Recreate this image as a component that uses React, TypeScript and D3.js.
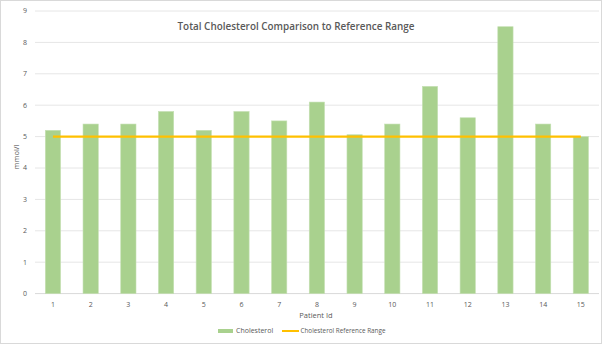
import React from "react";
import * as d3 from "d3";

const patientIds = ["1","2","3","4","5","6","7","8","9","10","11","12","13","14","15"];
const cholesterol = [5.2, 5.4, 5.4, 5.8, 5.2, 5.8, 5.5, 6.1, 5.06, 5.4, 6.6, 5.6, 8.5, 5.4, 5.0];
const referenceRange = [5,5,5,5,5,5,5,5,5,5,5,5,5,5,5];
const yTicks = [0,1,2,3,4,5,6,7,8,9];
const titleText = "Total Cholesterol Comparison to Reference Range";
const xAxisTitle = "Patient Id";
const yAxisTitle = "mmol/l";
const legendLabels = ["Cholesterol", "Cholesterol Reference Range"];

const W = 602, H = 344;
const font = "'Open Sans', 'Liberation Sans', sans-serif";
const textColor = "#595959";

export default function App() {
  const x = d3.scaleBand<string>().domain(patientIds).range([34.1, 599.7]).paddingInner(0.595).paddingOuter(0.2975);
  const y = d3.scaleLinear().domain([0, 9]).range([293.6, 11]);
  const line = d3.line<number>()
    .x((_, i) => (x(patientIds[i]) as number) + x.bandwidth() / 2)
    .y((d) => y(d));

  return (
    <svg width={W} height={H} style={{ position: "fixed", left: 0, top: 0, background: "#fff" }} fontFamily={font}>
      <rect x={0.5} y={0.5} width={W - 1} height={H - 1} fill="#fff" stroke="#d9d9d9" />
      {yTicks.map((t) => (
        <g key={t}>
          <line x1={35} x2={599} y1={y(t)} y2={y(t)} stroke={t === 0 ? "#d9d9d9" : "#e6e6e6"} strokeWidth={1} />
          <text x={27} y={y(t)} dy="0.35em" textAnchor="end" fontSize={7} fill={textColor}>{t}</text>
        </g>
      ))}
      {cholesterol.map((v, i) => (
        <rect key={i} x={x(patientIds[i])} y={y(v)} width={x.bandwidth()} height={y(0) - y(v)} fill="#a9d18e" stroke="#c5e0b4" strokeWidth={0.6} />
      ))}
      <path d={line(referenceRange) || ""} fill="none" stroke="#ffc000" strokeWidth={2.2} />
      {patientIds.map((p) => (
        <text key={p} x={(x(p) as number) + x.bandwidth() / 2} y={306.5} textAnchor="middle" fontSize={7} fill={textColor}>{p}</text>
      ))}
      <text x={316} y={318} textAnchor="middle" fontSize={7.5} fill={textColor}>{xAxisTitle}</text>
      <text transform="translate(19,157) rotate(-90)" textAnchor="middle" fontSize={7.5} fill={textColor}>{yAxisTitle}</text>
      <text x={296} y={29.5} textAnchor="middle" fontSize={11} fontWeight={600} fill={textColor} textLength={237} lengthAdjust="spacingAndGlyphs">{titleText}</text>
      <rect x={218} y={329} width={15} height={4} fill="#a9d18e" />
      <text x={236} y={333} fontSize={7} fill={textColor}>{legendLabels[0]}</text>
      <line x1={282} x2={299} y1={331} y2={331} stroke="#ffc000" strokeWidth={2} />
      <text x={300.5} y={333} fontSize={7} fill={textColor} textLength={85} lengthAdjust="spacingAndGlyphs">{legendLabels[1]}</text>
    </svg>
  );
}
